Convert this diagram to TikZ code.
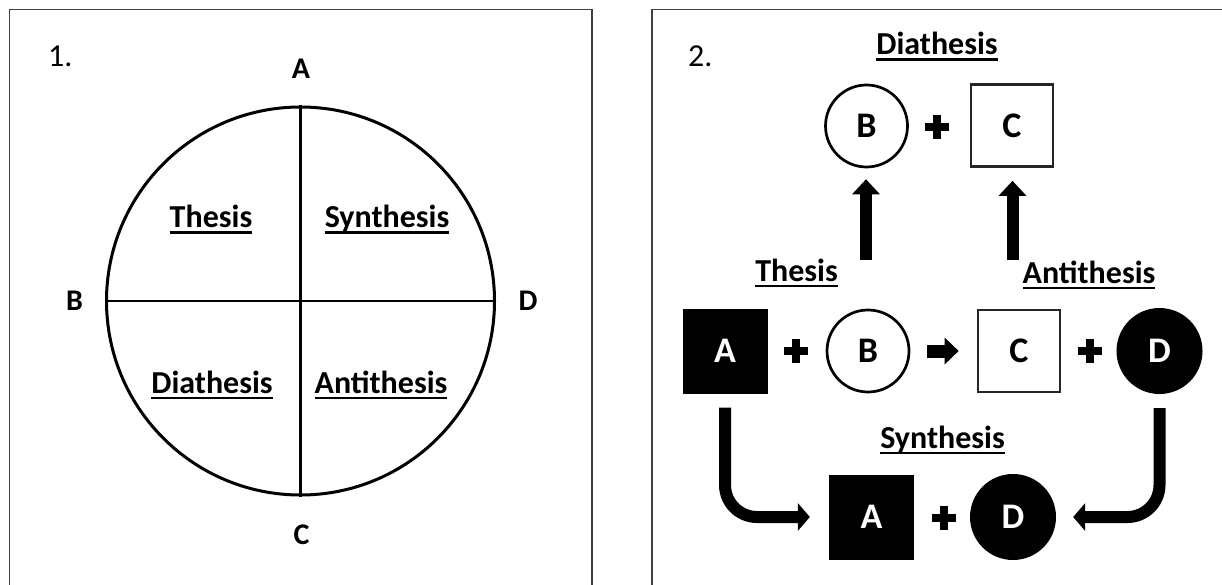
\documentclass[tikz,border=0pt]{standalone}
\usepackage{fontspec}
\setmainfont{Carlito}
\usetikzlibrary{arrows.meta}
\newcommand\ulword[1]{\setbox0\hbox{#1}\rlap{\rule[-6pt]{\wd0}{2.5pt}}\box0}
\tikzset{
  big/.style={font=\fontsize{32}{38}\selectfont\bfseries},
  shp/.style={font=\fontsize{36}{42}\selectfont\bfseries},
  ttl/.style={big, inner sep=0pt, anchor=base},
  lett/.style={font=\fontsize{30}{36}\selectfont\bfseries, inner sep=0pt, anchor=base},
  num/.style={font=\fontsize{32}{38}\selectfont, inner sep=0pt, anchor=base west},
  frame/.style={draw=black!75, line width=1.3pt},
  wbox/.style={shp, draw=black!85, line width=2.8pt, minimum size=82pt, inner sep=0pt},
  bbox/.style={shp, fill=black, minimum size=85pt, inner sep=0pt, text=white},
  wcirc/.style={shp, circle, draw=black, line width=2.7pt, minimum size=82pt, inner sep=0pt},
  bcirc/.style={shp, circle, fill=black, minimum size=86pt, inner sep=0pt, text=white},
  fat/.style={line width=12pt, -{Triangle[length=15pt,width=28pt,line width=0pt]}},
  bent/.style={line width=12pt, rounded corners=32pt, -{Triangle[length=12pt,width=28pt,line width=0pt]}},
  plussign/.pic={\draw[line width=8pt] (-12,0) -- (12,0) (0,-12) -- (0,12);}
}
\begin{document}
\begin{tikzpicture}[x=1pt,y=-1pt]
\useasboundingbox (0,0) rectangle (1222,585);
\clip (0,0) rectangle (1222,585);
\fill[white] (0,0) rectangle (1222,585);

% ---------- panel 1 ----------
\draw[frame] (9.5,9.5) rectangle (592,620);
\node[num] (n1) at (48,67) {1.};
\node[circle, draw, line width=3pt, minimum size=388pt, inner sep=0pt] (circ) at (300.5,301) {};
\draw[line width=2.5pt] (circ.north) -- (circ.south);
\draw[line width=2.5pt] (circ.west) -- (circ.east);
\node[lett] (lA) at (301,79) {A};
\node[lett] (lB) at (74.5,310) {B};
\node[lett] (lD) at (528,310) {D};
\node[lett] (lC) at (301.5,544) {C};
\node[ttl] (q1) at (211,228) {\ulword{Thesis}};
\node[ttl] (q2) at (387,228) {\ulword{Synthesis}};
\node[ttl] (q3) at (212,393) {\ulword{Diathesis}};
\node[ttl] (q4) at (381,393) {\ulword{Antithesis}};

% ---------- panel 2 ----------
\draw[frame] (652,9.5) rectangle (1240,620);
\node[num] (n2) at (688,67) {2.};

\node[ttl] (tDia) at (937,55) {\ulword{Diathesis}};
\node[wcirc] (dB) at (866.5,126) {B};
\pic at (937,127) {plussign};
\node[wbox] (dC) at (1012,125.5) {C};

\node[ttl] (tThe) at (796.5,281) {\ulword{Thesis}};
\node[ttl] (tAnt) at (1089,283) {\ulword{Antithesis}};

\node[bbox] (tA) at (725,351) {A};
\pic at (796,351) {plussign};
\node[wcirc] (tB) at (868,351) {B};
\node[wbox] (tC) at (1019,351) {C};
\pic at (1089.5,351) {plussign};
\node[bcirc] (tD) at (1159.5,351) {D};

\node[ttl] (tSyn) at (942.5,448) {\ulword{Synthesis}};
\node[bbox] (sA) at (871.5,517) {A};
\pic at (944,518) {plussign};
\node[bcirc] (sD) at (1013,517) {D};

% arrows
\coordinate (u1) at (866,260);
\coordinate (u2) at (1012.5,260);
\draw[fat, shorten >=11pt] (u1) -- (u1 |- dB.south);
\draw[fat, shorten >=13pt] (u2) -- (u2 |- dC.south);
\draw[line width=13pt, -{Triangle[length=14pt,width=27pt,line width=0pt]}, shorten <=17pt, shorten >=18pt] (tB.east) -- (tC.west);
\draw[bent, shorten >=19pt] ([yshift=-14pt]tA.south) -- (tA.south |- sA.west) -- (sA.west);
\draw[bent, shorten >=17pt] ([yshift=-14pt]tD.south) -- (tD.south |- sD.east) -- (sD.east);
\end{tikzpicture}
\end{document}
